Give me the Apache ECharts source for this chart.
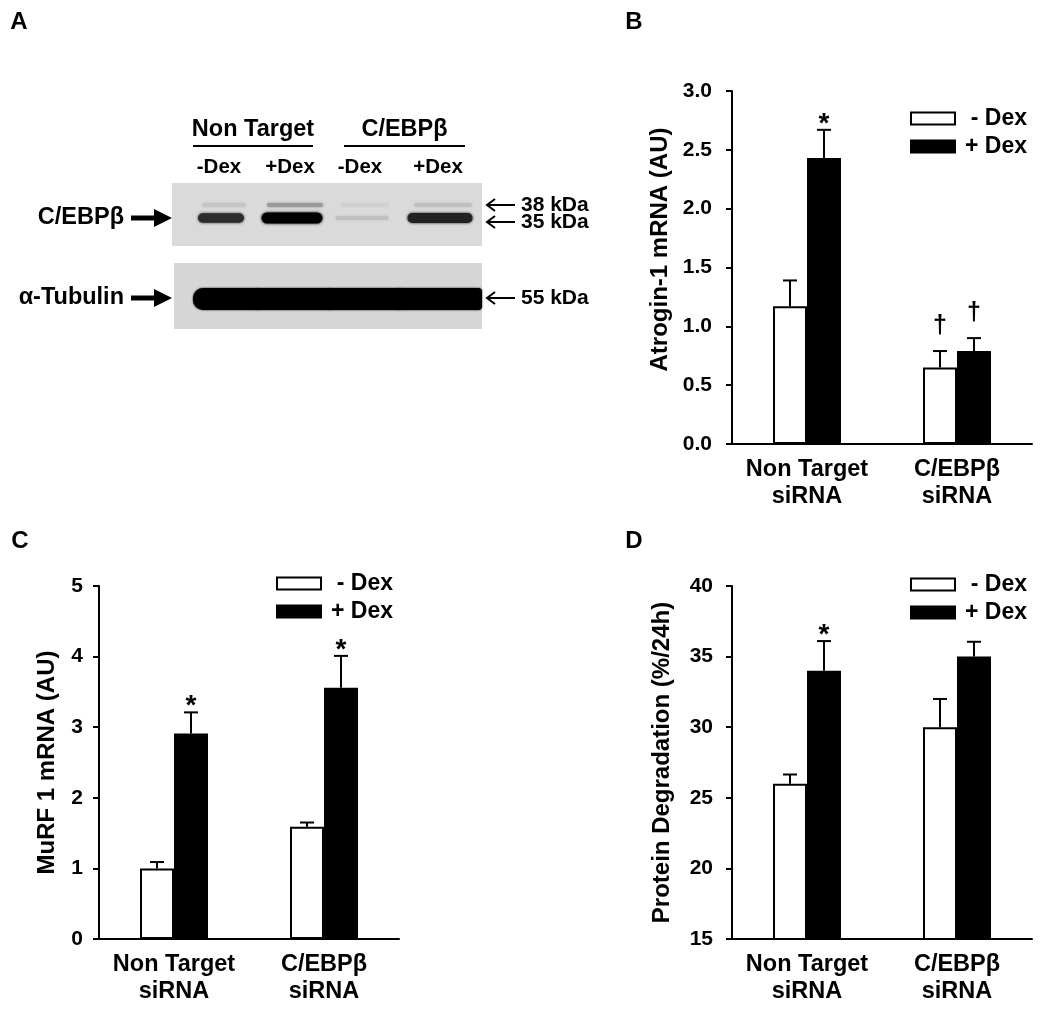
<!DOCTYPE html>
<html><head><meta charset="utf-8">
<script src="https://cdn.jsdelivr.net/npm/echarts@6/dist/echarts.min.js"></script>
<style>html,body{margin:0;padding:0;background:#fff}#c{width:1050px;height:1019px}</style>
</head><body><div id="c"></div>
<script>
// ---------- data ----------
const categories = ['Non Target\nsiRNA', 'C/EBPβ\nsiRNA'];
const seriesNames = ['- Dex', '+ Dex'];
// Panel B : Atrogin-1 mRNA (AU)
const atroginMinus = [1.17, 0.65];
const atroginMinusErr = [0.22, 0.14];
const atroginPlus = [2.43, 0.79];
const atroginPlusErr = [0.24, 0.11];
const atroginMinusSig = ['', '†'];
const atroginPlusSig = ['*', '†'];
const atroginTicks = [0, 3, 0.5];
// Panel C : MuRF 1 mRNA (AU)
const murfMinus = [1.0, 1.59];
const murfMinusErr = [0.09, 0.06];
const murfPlus = [2.91, 3.56];
const murfPlusErr = [0.30, 0.45];
const murfMinusSig = ['', ''];
const murfPlusSig = ['*', '*'];
const murfTicks = [0, 5, 1];
// Panel D : Protein Degradation (%/24h)
const degMinus = [26.0, 30.0];
const degMinusErr = [0.65, 2.0];
const degPlus = [34.0, 35.0];
const degPlusErr = [2.1, 1.05];
const degMinusSig = ['', ''];
const degPlusSig = ['*', ''];
const degTicks = [15, 40, 5];
// Panel A : western blot
const blotGroups = ['Non Target', 'C/EBPβ'];
const blotLanes = ['-Dex', '+Dex', '-Dex', '+Dex'];
const band35 = [0.8, 1.0, 0.12, 0.85];
const band38 = [0.10, 0.30, 0.04, 0.12];
const tubulinBand = [1, 1, 1, 1];
const blotTargets = ['C/EBPβ', 'α-Tubulin'];
const markerLabels = ['38 kDa', '35 kDa', '55 kDa'];

// ---------- layout / style ----------
const FONT = '"Liberation Sans", Arial, Helvetica, sans-serif';
const BAR_W = 34, CAP = 7;
const axisFont = {fontFamily: FONT, fontWeight: 'bold', color: '#000'};

function errSeries(g, vals, errs, sigs, side) {
  return {
    type: 'custom', xAxisIndex: g, yAxisIndex: g, silent: true, z: 5,
    encode: {x: 0, y: 1},
    data: vals.map((v, i) => [i, v, errs[i]]),
    renderItem(params, api) {
      const i = api.value(0), v = api.value(1), e = api.value(2);
      const base = api.coord([i, v]);
      const top = api.coord([i, v + e]);
      const x = base[0] + side * BAR_W / 2;
      const children = [
        {type: 'line', shape: {x1: x, y1: base[1], x2: x, y2: top[1]}, style: {stroke: '#000', lineWidth: 2}},
        {type: 'line', shape: {x1: x - CAP, y1: top[1], x2: x + CAP, y2: top[1]}, style: {stroke: '#000', lineWidth: 2}}
      ];
      const s = sigs[params.dataIndex];
      if (s) {
        const star = s === '*';
        children.push({type: 'text', x: x, y: top[1] - (star ? 6 : 25),
          style: {text: s, fill: '#000', font: 'bold ' + (star ? 28 : 25) + 'px ' + FONT, align: 'center', verticalAlign: 'middle'}});
      }
      return {type: 'group', children};
    }
  };
}
function barSeries(g, name, vals, dark) {
  return {
    type: 'bar', name, xAxisIndex: g, yAxisIndex: g, data: vals, barWidth: BAR_W, barGap: '0%',
    itemStyle: {color: dark ? '#000' : '#fff', borderColor: '#000', borderWidth: 2},
    emphasis: {disabled: true}
  };
}
function xAxis(g) {
  return {
    type: 'category', gridIndex: g, data: categories,
    axisLine: {lineStyle: {color: '#000', width: 2}},
    axisTick: {alignWithLabel: true, length: 6, lineStyle: {color: '#000', width: 2}},
    axisLabel: Object.assign({fontSize: 23.5, lineHeight: 27, margin: 12, interval: 0, hideOverlap: false}, axisFont)
  };
}
function yAxis(g, ticks, name, gap, fmt, margin, pad) {
  return {
    type: 'value', gridIndex: g, min: ticks[0], max: ticks[1], interval: ticks[2],
    name, nameLocation: 'middle', nameRotate: 90, nameGap: gap,
    nameTextStyle: Object.assign({fontSize: 24, padding: pad || 0}, axisFont),
    axisLine: {show: true, lineStyle: {color: '#000', width: 2}},
    axisTick: {show: true, length: 6, lineStyle: {color: '#000', width: 2}},
    splitLine: {show: false},
    axisLabel: Object.assign({fontSize: 21, margin, formatter: fmt}, axisFont)
  };
}
function legend(left, top) {
  return {
    left, top, padding: 0, orient: 'vertical', icon: 'rect', itemWidth: 44, itemHeight: 12, itemGap: 5,
    data: seriesNames, selectedMode: false,
    itemStyle: {borderColor: '#000', borderWidth: 2},
    formatter: n => '{a|' + n + '}',
    textStyle: {lineHeight: 16, rich: {a: {width: 67, align: 'right', fontSize: 23, fontWeight: 'bold', fontFamily: FONT, color: '#000', lineHeight: 16}}}
  };
}

// ---------- panel A (blot) as graphic ----------
const laneX = [221, 292, 362, 440];
const laneW35 = [46, 61, 53, 65];
const laneW38 = [44, 56, 48, 58];
const BG = 218;
const gray = i => { const g = Math.round(BG * (1 - i)); return 'rgb(' + g + ',' + g + ',' + g + ')'; };
const txt = (text, x, y, size, align, extra) => ({type: 'text', x, y, silent: true,
  style: Object.assign({text, fill: '#000', font: 'bold ' + size + 'px ' + FONT, align: align || 'center', verticalAlign: 'middle',
    textAlign: align || 'center', textVerticalAlign: 'middle'}, extra || {})});
const g = [];
// panel letters
g.push(txt('A', 19, 22, 24), txt('B', 634, 22, 24), txt('C', 20, 541, 24), txt('D', 634, 541, 24));
// group headers
const grpX = [[193, 313], [344, 465]];
blotGroups.forEach((name, k) => {
  g.push(txt(name, (grpX[k][0] + grpX[k][1]) / 2, 130, 23.5));
  g.push({type: 'line', silent: true, shape: {x1: grpX[k][0], y1: 146, x2: grpX[k][1], y2: 146}, style: {stroke: '#000', lineWidth: 2}});
});
blotLanes.forEach((l, k) => g.push(txt(l, laneX[k] - 2, 167, 20.5)));
// blot boxes
g.push({type: 'rect', silent: true, shape: {x: 172, y: 183, width: 310, height: 63}, style: {fill: gray(0)}});
g.push({type: 'rect', silent: true, shape: {x: 174, y: 263, width: 308, height: 66}, style: {fill: 'rgb(214,214,214)'}});
band38.forEach((v, k) => {
  const w = laneW38[k];
  g.push({type: 'rect', silent: true, shape: {x: laneX[k] - w / 2 + 3, y: 203, width: w, height: 4, r: 2},
    style: {fill: gray(v), shadowBlur: 3, shadowColor: gray(v)}});
});
band35.forEach((v, k) => {
  const w = laneW35[k], h = 3 + 8 * v;
  g.push({type: 'rect', silent: true, shape: {x: laneX[k] - w / 2, y: 218 - h / 2, width: w, height: h, r: h / 2},
    style: {fill: gray(v), shadowBlur: 3, shadowColor: gray(v)}});
});
const tubX = [[193, 260], [255, 332], [327, 402], [397, 482]];
tubulinBand.forEach((v, k) => {
  g.push({type: 'rect', silent: true, shape: {x: tubX[k][0], y: 288, width: tubX[k][1] - tubX[k][0], height: 22, r: [k === 0 ? 10 : 4, 4, 4, k === 0 ? 10 : 4]},
    style: {fill: gray(v), shadowBlur: 2, shadowColor: gray(v)}});
});
// target labels with thick arrows
[218, 298].forEach((y, k) => {
  g.push(txt(blotTargets[k], 124, y, 23.5, 'right'));
  g.push({type: 'line', silent: true, shape: {x1: 131, y1: y, x2: 157, y2: y}, style: {stroke: '#000', lineWidth: 5}});
  g.push({type: 'polygon', silent: true, shape: {points: [[154, y - 9], [172, y], [154, y + 9]]}, style: {fill: '#000'}});
});
// marker arrows
[205, 222, 298].forEach((y, k) => {
  g.push({type: 'line', silent: true, shape: {x1: 487, y1: y, x2: 515, y2: y}, style: {stroke: '#000', lineWidth: 2}});
  g.push({type: 'polyline', silent: true, shape: {points: [[495, y - 6], [487, y], [495, y + 6]]}, style: {stroke: '#000', lineWidth: 2, fill: null}});
  g.push(txt(markerLabels[k], 521, y, 21, 'left'));
});

const option = {
  animation: false,
  backgroundColor: '#fff',
  grid: [
    {left: 732, top: 91, width: 300, height: 353},
    {left: 99, top: 586, width: 300, height: 353},
    {left: 732, top: 586, width: 300, height: 353}
  ],
  xAxis: [xAxis(0), xAxis(1), xAxis(2)],
  yAxis: [
    yAxis(0, atroginTicks, 'Atrogin-1 mRNA (AU)', 60, v => v.toFixed(1), 20, [0, 0, 0, 36]),
    yAxis(1, murfTicks, 'MuRF 1 mRNA (AU)', 40, v => String(v), 16),
    yAxis(2, degTicks, 'Protein Degradation (%/24h)', 58, v => String(v), 19)
  ],
  legend: [legend(910, 107), legend(276, 572), legend(910, 573)],
  series: [
    barSeries(0, seriesNames[0], atroginMinus, false),
    barSeries(0, seriesNames[1], atroginPlus, true),
    errSeries(0, atroginMinus, atroginMinusErr, atroginMinusSig, -1),
    errSeries(0, atroginPlus, atroginPlusErr, atroginPlusSig, 1),
    barSeries(1, seriesNames[0], murfMinus, false),
    barSeries(1, seriesNames[1], murfPlus, true),
    errSeries(1, murfMinus, murfMinusErr, murfMinusSig, -1),
    errSeries(1, murfPlus, murfPlusErr, murfPlusSig, 1),
    barSeries(2, seriesNames[0], degMinus, false),
    barSeries(2, seriesNames[1], degPlus, true),
    errSeries(2, degMinus, degMinusErr, degMinusSig, -1),
    errSeries(2, degPlus, degPlusErr, degPlusSig, 1)
  ],
  graphic: g
};
const chart = echarts.init(document.getElementById('c'), null, {renderer: 'canvas'});
chart.setOption(option);
</script></body></html>
